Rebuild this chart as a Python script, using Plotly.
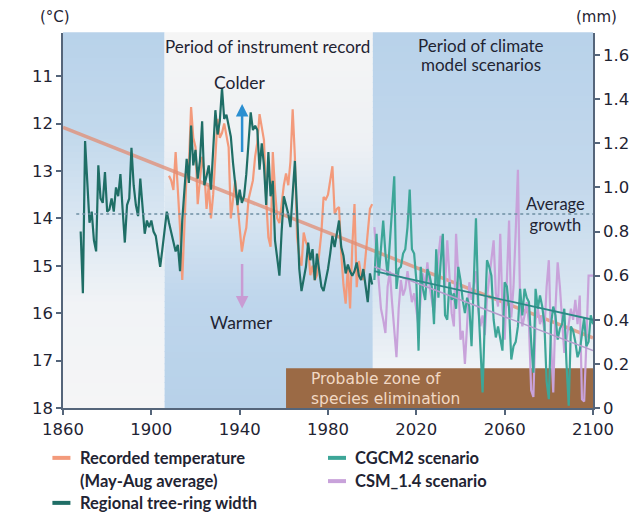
import plotly.graph_objects as go

# ---------------- data ----------------
ring_years = list(range(1868, 2001))
ring_width = [0.80, 0.52, 1.21, 1.02, 0.84, 0.89, 0.76, 0.71, 1.10, 0.95,
              0.93, 1.07, 0.89, 0.90, 0.95, 0.89, 1.00, 0.96, 1.06, 0.90,
              0.75, 0.92, 0.95, 1.18, 1.01, 0.92, 0.87, 1.04, 0.90, 0.79,
              0.85, 0.82, 0.85, 0.80, 0.78, 0.70, 0.64, 0.72, 0.80, 0.89,
              0.84, 0.80, 0.75, 0.71, 0.74, 0.62, 0.85, 1.00, 1.13, 1.02,
              1.28, 1.10, 1.17, 1.04, 1.12, 1.30, 1.01, 1.05, 1.10, 0.99,
              1.15, 1.35, 1.24, 1.30, 1.45, 1.31, 1.33, 1.28, 1.23, 1.11,
              1.00, 0.92, 0.99, 0.93, 0.96, 1.06, 1.20, 1.34, 1.26, 1.28,
              1.26, 1.08, 1.20, 1.10, 0.92, 1.16, 0.96, 1.03, 0.76, 0.68,
              0.60, 0.80, 0.96, 0.92, 0.88, 0.82, 0.95, 1.12, 0.89, 0.63,
              0.53, 0.58, 0.64, 0.75, 0.67, 0.72, 0.58, 0.70, 0.62, 0.55,
              0.53, 0.58, 0.63, 0.70, 0.78, 0.73, 0.80, 0.85, 0.73, 0.69,
              0.61, 0.65, 0.62, 0.60, 0.62, 0.66, 0.60, 0.58, 0.63, 0.55,
              0.48, 0.61, 0.56]

temp_years = list(range(1908, 2001))
temp_c = [13.1, 13.2, 13.4, 12.6, 13.4, 14.2, 15.3, 14.0, 13.0, 12.9,
          11.65, 12.3, 12.5, 13.7, 13.2, 12.7, 13.0, 13.8, 13.3, 14.0,
          13.5, 12.6, 11.9, 12.3, 12.2, 12.0, 12.3, 12.5, 14.0, 13.6,
          13.2, 13.7, 14.3, 14.7, 14.4, 14.2, 13.6, 13.4, 13.2, 12.7,
          12.4, 11.8, 12.1, 12.35, 13.6, 14.4, 14.6, 12.6, 13.4, 14.0,
          14.1, 13.7, 13.3, 13.05, 13.3, 12.8, 11.7, 12.7, 14.4, 14.8,
          15.0, 14.3, 14.5, 14.6, 15.2, 15.0, 15.3, 15.2, 14.8, 14.3,
          13.55, 13.6, 13.5, 13.2, 12.9, 13.9, 13.8, 13.76, 14.75, 15.4,
          15.8, 15.0, 15.9, 14.6, 13.7, 15.45, 14.9, 15.2, 15.3, 14.8,
          14.3, 13.8, 13.7]

scen_years = list(range(2001, 2101))
cgcm2 = [0.58, 0.79, 0.60, 0.72, 0.85, 0.70, 0.60, 0.75, 0.88, 1.05,
         0.54, 0.63, 0.64, 0.70, 0.72, 0.82, 0.99, 0.72, 0.70, 0.58,
         0.26, 0.64, 0.54, 0.49, 0.63, 0.60, 0.55, 0.38, 0.72, 0.50,
         0.66, 0.79, 0.42, 0.40, 0.57, 0.49, 0.52, 0.45, 0.64, 0.58,
         0.49, 0.43, 0.50, 0.46, 0.28, 0.55, 0.86, 0.49, 0.30, 0.07,
         0.40, 0.67, 0.64, 0.60, 0.40, 0.32, 0.37, 0.31, 0.26, 0.57,
         0.55, 0.45, 0.22, 0.28, 0.30, 0.37, 0.54, 0.42, 0.54, 0.50,
         0.48, 0.30, 0.16, 0.54, 0.45, 0.51, 0.46, 0.38, 0.12, 0.04,
         0.38, 0.46, 0.42, 0.31, 0.36, 0.38, 0.45, 0.20, 0.01, 0.37,
         0.35, 0.30, 0.23, 0.26, 0.35, 0.41, 0.28, 0.30, 0.42, 0.38]
csm14 = [0.82, 0.70, 0.55, 0.45, 0.40, 0.34, 0.55, 0.62, 0.48, 0.35,
         0.23, 0.45, 0.58, 0.51, 0.54, 0.62, 0.55, 0.48, 0.52, 0.45,
         0.37, 0.50, 0.61, 0.55, 0.66, 0.55, 0.48, 0.43, 0.55, 0.69,
         0.78, 0.75, 0.55, 0.76, 0.60, 0.43, 0.37, 0.79, 0.60, 0.31,
         0.35, 0.20, 0.38, 0.57, 0.49, 0.55, 0.62, 0.45, 0.37, 0.42,
         0.33, 0.50, 0.58, 0.67, 0.76, 0.52, 0.46, 0.79, 0.45, 0.31,
         0.55, 0.85, 0.41, 0.55, 0.80, 1.08, 0.46, 0.37, 0.42, 0.48,
         0.38, 0.08, 0.05, 0.40, 0.45, 0.38, 0.42, 0.35, 0.55, 0.67,
         0.30, 0.07, 0.45, 0.66, 0.55, 0.40, 0.25, 0.31, 0.38, 0.45,
         0.40, 0.49, 0.38, 0.51, 0.04, 0.03, 0.30, 0.60, 0.60, 0.60]

temp_trend_years = [1860, 2100]
temp_trend_c = [12.08, 16.52]
cgcm2_trend_years = [2001, 2100]
cgcm2_trend_mm = [0.62, 0.40]
csm_trend_years = [2001, 2100]
csm_trend_mm = [0.64, 0.26]

average_growth_mm = 0.88
elimination_zone = {"start": 1961, "end": 2100, "top_mm": 0.18}
periods = {"pre": (1860, 1906), "instrument": (1906, 2000.3), "model": (2000.3, 2100)}

x_ticks = [1860, 1900, 1940, 1980, 2020, 2060, 2100]
c_ticks = [11, 12, 13, 14, 15, 16, 17, 18]
mm_ticks = [0, 0.2, 0.4, 0.6, 0.8, 1.0, 1.2, 1.4, 1.6]
mm_labels = ["0", "0.2", "0.4", "0.6", "0.8", "1.0", "1.2", "1.4", "1.6"]

# ---------------- styling ----------------
FONT = "Lato"
TICKFONT = "DejaVu Sans"
TXT = "#1f2433"
C_TEMP = "#f39a7b"
C_RING = "#1f6e66"
C_CGCM = "#3da698"
C_CSM = "#c8a2da"
C_BROWN = "#9b6a45"
AXIS = "#55657a"


def hex2rgb(h):
    h = h.lstrip("#")
    return tuple(int(h[i:i + 2], 16) for i in (0, 2, 4))


def interp(stops, f):
    for (f0, c0), (f1, c1) in zip(stops[:-1], stops[1:]):
        if f0 <= f <= f1:
            t = (f - f0) / (f1 - f0) if f1 > f0 else 0
            a, b = hex2rgb(c0), hex2rgb(c1)
            return "rgb(%d,%d,%d)" % tuple(round(a[i] + (b[i] - a[i]) * t) for i in range(3))
    return stops[-1][1]


grad = {
    "pre": [(0, "#f5f5f6"), (0.28, "#f1f3f6"), (0.5, "#dae7f2"), (0.72, "#c3d9ec"), (1.0, "#b8d2ea")],
    "instrument": [(0, "#b7d1e9"), (0.3, "#bfd6ec"), (0.5, "#d6e4f1"), (0.7, "#eef1f4"), (1.0, "#f5f5f5")],
    "model": [(0, "#f5f6f7"), (0.12, "#eef2f6"), (0.3, "#d9e6f1"), (0.6, "#c3d8ec"), (1.0, "#b8d2ea")],
}

shapes = []
N = 60
for key, (x0, x1) in periods.items():
    for k in range(N):
        f = (k + 0.5) / N
        shapes.append(dict(type="rect", xref="x", yref="paper", x0=x0, x1=x1,
                           y0=k / N, y1=(k + 1) / N + 0.002, layer="below",
                           line=dict(width=0), fillcolor=interp(grad[key], f)))

shapes.append(dict(type="rect", xref="x", yref="y2", x0=elimination_zone["start"],
                   x1=elimination_zone["end"], y0=0, y1=elimination_zone["top_mm"],
                   layer="below", line=dict(width=0), fillcolor=C_BROWN))

# legend swatches
legend_items = [
    (-0.02, -0.133, C_TEMP), (-0.02, -0.253, C_RING),
    (0.5, -0.133, C_CGCM), (0.5, -0.195, C_CSM),
]
for lx, ly, col in legend_items:
    shapes.append(dict(type="line", xref="paper", yref="paper", x0=lx, x1=lx + 0.034,
                       y0=ly, y1=ly, line=dict(color=col, width=4)))

fig = go.Figure()

fig.add_trace(go.Scatter(x=temp_years, y=temp_c, mode="lines", yaxis="y",
                         line=dict(color=C_TEMP, width=2.2), name="Recorded temperature"))
fig.add_trace(go.Scatter(x=ring_years, y=ring_width, mode="lines", yaxis="y2",
                         line=dict(color=C_RING, width=2.2), name="Regional tree-ring width"))
fig.add_trace(go.Scatter(x=scen_years, y=csm14, mode="lines", yaxis="y2",
                         line=dict(color=C_CSM, width=2.2), name="CSM_1.4 scenario"))
fig.add_trace(go.Scatter(x=scen_years, y=cgcm2, mode="lines", yaxis="y2",
                         line=dict(color=C_CGCM, width=2.2), name="CGCM2 scenario"))
# trend lines
fig.add_trace(go.Scatter(x=temp_trend_years, y=temp_trend_c, mode="lines", yaxis="y",
                         line=dict(color="rgba(226,140,115,0.75)", width=3.5), showlegend=False))
fig.add_trace(go.Scatter(x=csm_trend_years, y=csm_trend_mm, mode="lines", yaxis="y2",
                         line=dict(color="#b59ccc", width=1.5), showlegend=False))
fig.add_trace(go.Scatter(x=cgcm2_trend_years, y=cgcm2_trend_mm, mode="lines", yaxis="y2",
                         line=dict(color="#2b8a86", width=1.8), showlegend=False))
# average growth
fig.add_trace(go.Scatter(x=[1866, 2100], y=[average_growth_mm] * 2, mode="lines", yaxis="y2",
                         line=dict(color="#6e8ea3", width=1.5, dash="dot"), showlegend=False))

ann = []


def t(text, x, y, xref="x", yref="paper", size=17, xanchor="center", align="center",
      color=TXT, bold=False, family=FONT):
    ann.append(dict(text=("<b>%s</b>" % text) if bold else text, x=x, y=y, xref=xref,
                    yref=yref, showarrow=False, xanchor=xanchor, yanchor="middle",
                    align=align, font=dict(family=family, size=size, color=color)))


t("Period of instrument record", 1952.8, 0.963)
t("Period of climate", 2049.3, 0.968)
t("model scenarios", 2049.3, 0.915)
t("Colder", 1940.2, 0.867, size=17.5)
t("Warmer", 1941.0, 0.229, size=17.5)
t("Average<br>growth", 2097.5, 0.515, xanchor="right", align="center", size=16.5)
t("Probable zone of<br>species elimination", 1971.5, 0.051, xanchor="left", align="left",
  color="#f2d9c4", size=15.5, family="DejaVu Sans")
t("(°C)", -0.015, 1.043, xref="paper", size=15, family=TICKFONT)
t("(mm)", 1.006, 1.043, xref="paper", size=15, family=TICKFONT)

# legend text
t("Recorded temperature", 0.028, -0.133, xref="paper", xanchor="left", bold=True, size=16.5)
t("(May-Aug average)", 0.028, -0.195, xref="paper", xanchor="left", bold=True, size=16.5)
t("Regional tree-ring width", 0.028, -0.253, xref="paper", xanchor="left", bold=True, size=16.5)
t("CGCM2 scenario", 0.547, -0.133, xref="paper", xanchor="left", bold=True, size=16.5)
t("CSM_1.4 scenario", 0.547, -0.195, xref="paper", xanchor="left", bold=True, size=16.5)

# arrows
ann.append(dict(x=1941.1, y=11.59, ax=1941.1, ay=12.63, xref="x", yref="y", axref="x",
                ayref="y", showarrow=True, arrowhead=2, arrowsize=1, arrowwidth=2.5,
                arrowcolor="#2b8fd1", text=""))
ann.append(dict(x=1941.1, y=15.9, ax=1941.1, ay=14.93, xref="x", yref="y", axref="x",
                ayref="y", showarrow=True, arrowhead=2, arrowsize=1, arrowwidth=2.5,
                arrowcolor="#c99bd3", text=""))

axis_common = dict(showline=True, linecolor=AXIS, linewidth=1.5, ticks="outside",
                   ticklen=5, tickcolor=AXIS, tickwidth=1.5, showgrid=False, zeroline=False,
                   automargin=False,
                   tickfont=dict(family=TICKFONT, size=16.5, color=TXT))

fig.update_layout(
    width=630, height=514,
    margin=dict(l=63, r=37, t=33, b=106),
    paper_bgcolor="white", plot_bgcolor="white",
    showlegend=False,
    xaxis=dict(range=[1860, 2100], tickvals=x_ticks, **axis_common),
    yaxis=dict(range=[18, 10.09], tickvals=c_ticks, **axis_common),
    yaxis2=dict(range=[0, 1.7], tickvals=mm_ticks, ticktext=mm_labels, overlaying="y",
                side="right", **axis_common),
    shapes=shapes,
    annotations=ann,
)

fig.write_html("out.html", config={"displayModeBar": False},
               post_script="document.body.style.margin='0';document.body.style.overflow='hidden';")
